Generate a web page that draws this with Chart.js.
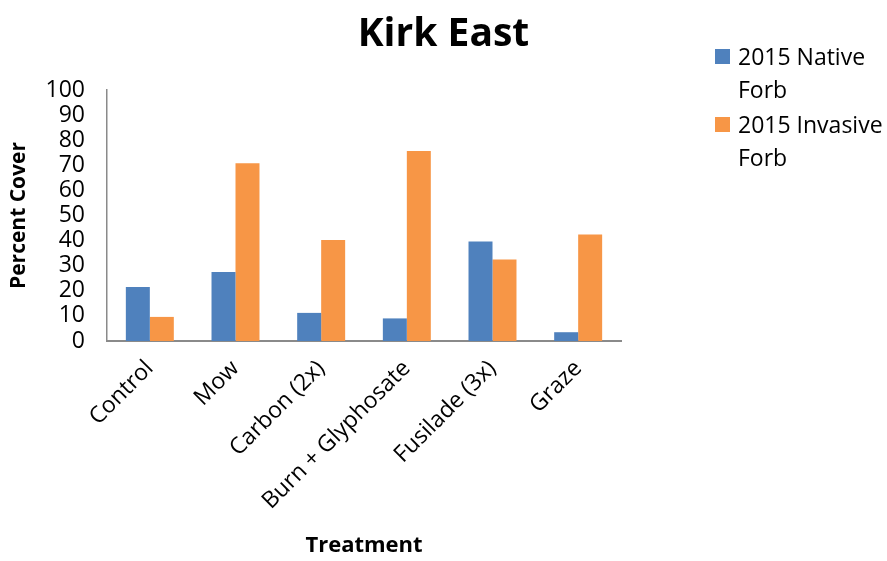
<!DOCTYPE html>
<html>
<head>
<meta charset="utf-8">
<script src="https://cdn.jsdelivr.net/npm/chart.js@4/dist/chart.umd.min.js"></script>
<style>
  html, body { margin: 0; padding: 0; background: #fff; }
  #wrap { position: relative; width: 887px; height: 561px; font-family: "Open Sans", sans-serif; color: #000; }
  #kirk { position: absolute; left: 0; top: 0; }
  #title { position: absolute; left: 0; width: 887px; top: 6px; text-align: center; font-weight: bold; font-size: 39px; line-height: 50px; }
  #legend { position: absolute; left: 715px; top: 40px; font-size: 23px; line-height: 33px; }
  .item { display: flex; align-items: flex-start; margin-bottom: 2px; }
  .swatch { width: 15px; height: 15px; margin-top: 9px; margin-right: 8px; flex: none; }
</style>
</head>
<body>
<div id="wrap">
  <canvas id="kirk" width="887" height="561"></canvas>
  <div id="title">Kirk East</div>
  <div id="legend"></div>
</div>
<script>
const treatments = ['Control', 'Mow', 'Carbon (2x)', 'Burn + Glyphosate', 'Fusilade (3x)', 'Graze'];
const nativeForb = [21.5, 27.5, 11.2, 9.0, 39.6, 3.5];
const invasiveForb = [9.6, 70.8, 40.2, 75.7, 32.5, 42.4];
const seriesNames = [['2015 Native', 'Forb'], ['2015 Invasive', 'Forb']];
const seriesColors = ['#4F81BD', '#F79646'];

const font = 'Open Sans';

const ctx = document.getElementById('kirk').getContext('2d');

const chart = new Chart(ctx, {
  type: 'bar',
  data: {
    labels: treatments,
    datasets: [nativeForb, invasiveForb].map((vals, i) => ({
      label: seriesNames[i].join(' '),
      data: vals,
      backgroundColor: seriesColors[i],
      borderWidth: 0,
      categoryPercentage: 0.56,
      barPercentage: 1.0
    }))
  },
  options: {
    responsive: false,
    animation: false,
    layout: { padding: { left: 0, top: 90, right: 266, bottom: 0 } },
    plugins: {
      legend: { display: false },
      title: { display: false },
      tooltip: { enabled: false }
    },
    scales: {
      x: {
        grid: { display: false, drawTicks: false },
        border: { color: '#8a8a8a', width: 2 },
        ticks: {
          color: '#000',
          font: { family: font, size: 23 },
          minRotation: 45,
          maxRotation: 45,
          autoSkip: false,
          padding: 14
        },
        title: {
          display: true,
          text: 'Treatment',
          color: '#000',
          font: { family: font, size: 22, weight: 'bold' },
          padding: { top: 0, bottom: 2 }
        },
        afterFit: (scale) => { scale.height = 220; }
      },
      y: {
        min: 0,
        max: 100,
        grid: { display: false, drawTicks: false },
        border: { color: '#8a8a8a', width: 1.5 },
        ticks: {
          stepSize: 10,
          autoSkip: false,
          color: '#000',
          font: { family: font, size: 23 },
          padding: 22
        },
        title: {
          display: true,
          text: 'Percent Cover',
          color: '#000',
          font: { family: font, size: 21, weight: 'bold' },
          padding: { top: 6, bottom: 0 }
        },
        afterFit: (scale) => { scale.width = 107; }
      }
    }
  }
});

// legend with the series names wrapped onto two lines
const legendBox = document.getElementById('legend');
seriesNames.forEach((lines, i) => {
  const item = document.createElement('div');
  item.className = 'item';
  item.innerHTML = '<span class="swatch" style="background:' + seriesColors[i] + '"></span><span>' + lines.join('<br>') + '</span>';
  legendBox.appendChild(item);
});
</script>
</body>
</html>
